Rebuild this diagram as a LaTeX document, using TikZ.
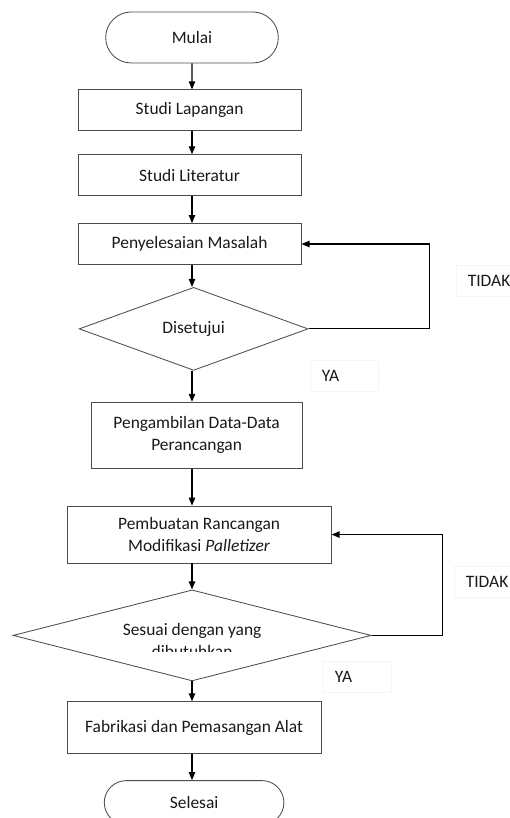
\documentclass[tikz,border=0pt]{standalone}
\usepackage{fontspec}
\setmainfont{Carlito}
\usepackage{tikz}
\usetikzlibrary{shapes.geometric, shapes.misc, arrows.meta, positioning, calc}

\begin{document}
\begin{tikzpicture}[
    txt/.style={align=center, text=black!90, font=\fontsize{12.4}{15.6}\selectfont},
    term/.style={txt, rounded rectangle, draw=black!70, line width=0.6pt, minimum width=4.55cm, minimum height=1.275cm},
    box/.style={txt, rectangle, draw=black!70, line width=0.6pt, minimum width=5.575cm, minimum height=1.025cm},
    decision/.style={txt, diamond, draw=black!70, line width=0.6pt, inner sep=0pt},
    lbl/.style={txt, draw=black!4, anchor=west, align=left, minimum height=0.775cm, inner xsep=0.3cm, text width=1.1cm},
    arrow/.style={-{Triangle[length=2mm, width=1.6mm]}, line width=0.8pt}
]
    \useasboundingbox (-4.8,0.9375) rectangle (7.925,-19.5125);

    % Start and studies
    \node[term] (mulai) {Mulai};
    \node[box, below=0.65cm of mulai, xshift=-0.06cm] (lap) {Studi Lapangan};
    \node[box, below=0.575cm of lap] (lit) {Studi Literatur};
    \node[box, below=0.675cm of lit] (pen) {Penyelesaian Masalah};
    \node[decision, below=0.55cm of pen, xshift=0.1cm, minimum width=5.725cm, minimum height=2.075cm] (dis) {Disetujui};

    % Data and design
    \node[box, below=0.775cm of dis, xshift=0.075cm, minimum width=5.275cm, minimum height=1.65cm] (data) {Pengambilan Data-Data\\Perancangan};
    \node[box, below=0.925cm of data, xshift=0.0625cm, minimum width=6.6cm, minimum height=1.425cm] (buat) {Pembuatan Rancangan\\Modifikasi \textit{Palletizer}};
    \node[decision, below=0.65cm of buat, xshift=-0.175cm, minimum width=8.95cm, minimum height=2.275cm] (sesuai) {};
    \begin{scope}
        \clip ($(sesuai)+(-3,1)$) rectangle ($(sesuai)+(3,-0.4125)$);
        \node[txt] (sesuaitxt) at ($(sesuai)+(0,-0.125)$) {Sesuai dengan yang\\dibutuhkan};
    \end{scope}

    % Finish
    \node[box, below=0.5cm of sesuai, xshift=0.05cm, minimum width=6.35cm, minimum height=1.3cm] (fab) {Fabrikasi dan Pemasangan Alat};
    \node[term, below=0.65cm of fab, minimum width=4.725cm, minimum height=1.1cm] (selesai) {Selesai};

    % Arrows
    \draw[arrow] (mulai) -- (lap.north -| mulai);
    \draw[arrow] (lap.south -| mulai) -- (lit.north -| mulai);
    \draw[arrow] (lit.south -| mulai) -- (pen.north -| mulai);
    \draw[arrow] (pen.south -| mulai) -- (dis.north -| mulai);
    \draw[arrow] (dis.south -| mulai) -- (data.north -| mulai);
    \draw[arrow] (data.south -| mulai) -- (buat.north -| mulai);
    \draw[arrow] (buat.south -| mulai) -- (sesuai.north -| mulai);
    \draw[arrow] (sesuai.south -| mulai) -- (fab.north -| mulai);
    \draw[arrow] (fab.south -| mulai) -- (selesai.north -| mulai);

    % Loops back
    \draw[arrow] (dis.east) -- ++(3.025,0) coordinate (c1) |- (pen);
    \draw[arrow] (sesuai.east) -- ++(1.775,0) coordinate (c2) |- (buat);

    % Labels
    \node[lbl] (tidak1) at ($(c1)+(0.65,1.21)$) {TIDAK};
    \node[lbl] (ya1) at ($(dis.east)+(0.025,-1.175)$) {YA};
    \node[lbl] (tidak2) at ($(c2)+(0.275,1.35)$) {TIDAK};
    \node[lbl] (ya2) at ($(sesuai.east)+(-1.225,-1.04)$) {YA};
\end{tikzpicture}
\end{document}
